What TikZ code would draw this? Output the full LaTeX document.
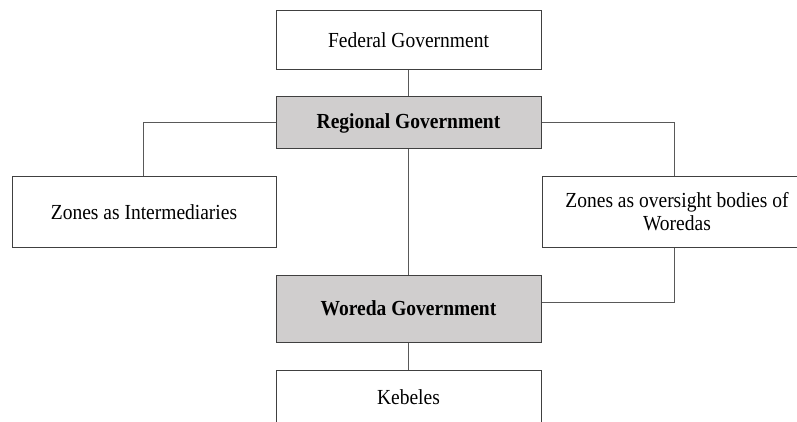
\documentclass[tikz,border=0pt]{standalone}
\usepackage{fontspec}
\setmainfont{Liberation Serif}
\newcommand{\tallt}[1]{\scalebox{1}[1.1]{#1}}
\begin{document}
\begin{tikzpicture}[x=1pt,y=-1pt,
  box/.style={draw=black!75, line width=1pt, fill=white, inner sep=0pt, align=center, font=\fontsize{19.5}{23}\selectfont},
  gbox/.style={box, fill={rgb,255:red,208;green,206;blue,206}, font=\fontsize{19.5}{23}\selectfont\bfseries},
  conn/.style={draw=black!65, line width=1pt}]
\useasboundingbox (0,0) rectangle (797,422);
\clip (0,0) rectangle (797,422);
\node[box, minimum width=265pt, minimum height=59pt] (fed) at (408.5,40.5) {\tallt{Federal Government}};
\node[gbox, minimum width=265pt, minimum height=52pt] (reg) at (408.5,123) {\tallt{Regional Government}};
\node[box, minimum width=264pt, minimum height=70pt] (zi) at (144,212) {\tallt{Zones as Intermediaries}};
\node[box, minimum width=270pt, minimum height=70pt] (zo) at (677,212) {\tallt{Zones as oversight bodies of}\\\tallt{Woredas}};
\node[gbox, minimum width=265pt, minimum height=67pt] (wor) at (408.5,308.5) {\tallt{Woreda Government}};
\node[box, minimum width=265pt, minimum height=70pt] (keb) at (408.5,405) {};
\node[font=\fontsize{19.5}{23}\selectfont] (kebt) at (408.5,397) {\tallt{Kebeles}};
\coordinate (c1) at (143,123);
\coordinate (c2) at (674,123);
\coordinate (c3) at (674,302);
\draw[conn] (fed.south) -- (reg.north);
\draw[conn] (reg.south) -- (wor.north);
\draw[conn] (wor.south) -- (keb.north);
\draw[conn] (reg.west) -- (c1) -- (c1 |- zi.north);
\draw[conn] (reg.east) -- (c2) -- (c2 |- zo.north);
\draw[conn] (c3 |- zo.south) -- (c3) -- (c3 -| wor.east);
\end{tikzpicture}
\end{document}
